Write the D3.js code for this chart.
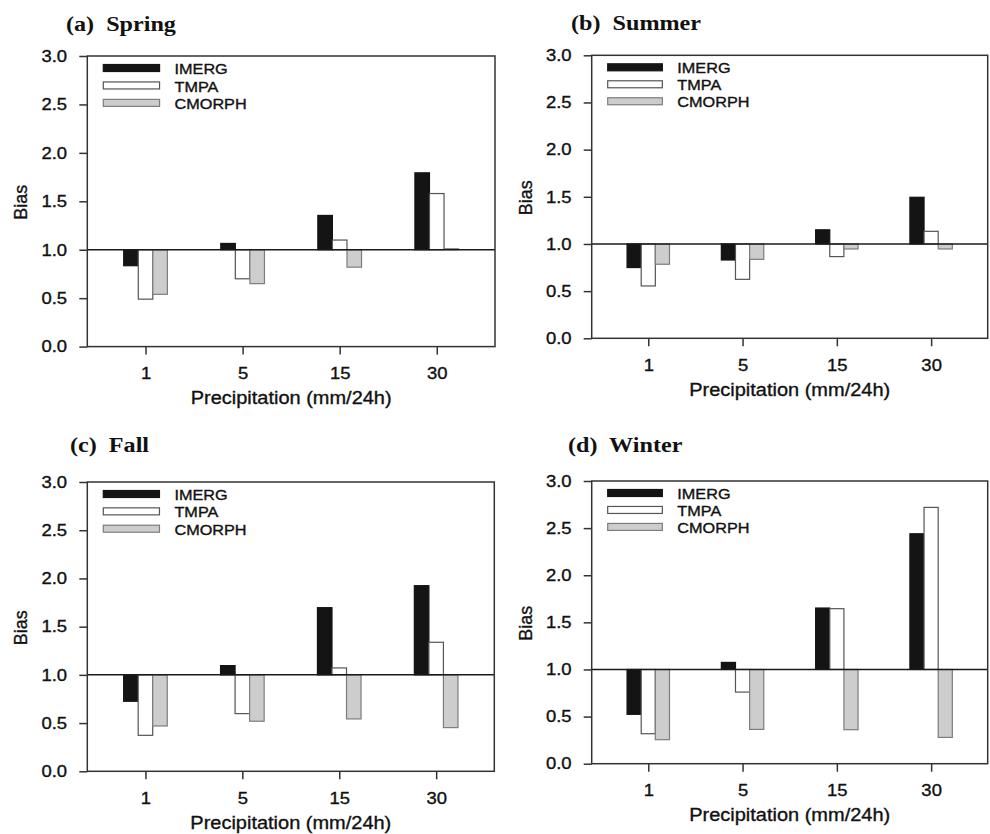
<!DOCTYPE html>
<html>
<head>
<meta charset="utf-8">
<script src="https://cdn.jsdelivr.net/npm/d3@7"></script>
<style>
  body { margin: 0; background: #fff; }
  svg { display: block; }
</style>
</head>
<body>
<svg id="chart" width="990" height="834"></svg>
<script>
const categories = ["1", "5", "15", "30"];
const series = ["IMERG", "TMPA", "CMORPH"];
const yTicks = [0, 0.5, 1.0, 1.5, 2.0, 2.5, 3.0];
const titles = ["(a)  Spring", "(b)  Summer", "(c)  Fall", "(d)  Winter"];

// bias values per season, one entry per category
const springImerg  = [0.835, 1.065, 1.354, 1.794];
const springTmpa   = [0.49, 0.70, 1.10, 1.58];
const springCmorph = [0.54, 0.65, 0.82, 1.01];

const summerImerg  = [0.75, 0.83, 1.15, 1.495];
const summerTmpa   = [0.555, 0.625, 0.866, 1.134];
const summerCmorph = [0.785, 0.837, 0.947, 0.947];

const fallImerg  = [0.726, 1.096, 1.697, 1.925];
const fallTmpa   = [0.373, 0.598, 1.072, 1.338];
const fallCmorph = [0.47, 0.519, 0.543, 0.453];

const winterImerg  = [0.524, 1.075, 1.652, 2.44];
const winterTmpa   = [0.318, 0.76, 1.645, 2.72];
const winterCmorph = [0.255, 0.364, 0.361, 0.279];

const seasons = [
  [springImerg, springTmpa, springCmorph],
  [summerImerg, summerTmpa, summerCmorph],
  [fallImerg, fallTmpa, fallCmorph],
  [winterImerg, winterTmpa, winterCmorph]
];

// frame box of each panel
const layout = [
  { left: 87.3, right: 495, top: 56, bottom: 346.6, tx: 66, ty: 31 },
  { left: 591.7, right: 987.7, top: 55.3, bottom: 338.3, tx: 571, ty: 30 },
  { left: 87.3, right: 494.3, top: 482, bottom: 771.3, tx: 70, ty: 452 },
  { left: 591.7, right: 987.7, top: 481, bottom: 763.7, tx: 568, ty: 452 }
];

const fills = { IMERG: "#141414", TMPA: "#ffffff", CMORPH: "#cdcdcd" };
const strokes = { IMERG: "#141414", TMPA: "#555555", CMORPH: "#7d7d7d" };
const sans = "'Liberation Sans', Arial, Helvetica, sans-serif";
const stretch = 1.12;

const svg = d3.select("#chart");

seasons.forEach((vals, i) => drawPanel(layout[i], titles[i], vals));

// heavier look for the scanned sans text
function ink(sel) {
  sel.attr("fill", "#111")
    .attr("stroke", "#111")
    .attr("stroke-width", 0.35)
    .style("font-family", sans);
}

function drawPanel(p, title, vals) {
  const pw = p.right - p.left;
  const ph = p.bottom - p.top;
  const g = svg.append("g").attr("transform", `translate(${p.left},${p.top})`);

  const x = d3.scalePoint().domain(categories).range([0, pw]).padding(0.6);
  const y = d3.scaleLinear().domain([0, 3]).range([ph, 0]);
  const bw = x.step() * 0.15;
  const xs = d3.scaleBand().domain(series).range([-1.5 * bw, 1.5 * bw]);

  // bars grow from the 1.0 line
  series.forEach((s, si) => {
    g.append("g").selectAll("rect")
      .data(vals[si])
      .join("rect")
      .attr("x", (d, k) => x(categories[k]) + xs(s))
      .attr("width", xs.bandwidth())
      .attr("y", d => Math.min(y(d), y(1)))
      .attr("height", d => Math.abs(y(d) - y(1)))
      .attr("fill", fills[s])
      .attr("stroke", strokes[s])
      .attr("stroke-width", 1.2);
  });

  g.append("line")
    .attr("x1", 0).attr("x2", pw)
    .attr("y1", y(1)).attr("y2", y(1))
    .attr("stroke", "#1a1a1a")
    .attr("stroke-width", 1.5);

  g.append("rect")
    .attr("width", pw).attr("height", ph)
    .attr("fill", "none")
    .attr("stroke", "#333")
    .attr("stroke-width", 1.5);

  const yAxis = g.append("g")
    .call(d3.axisLeft(y).tickValues(yTicks).tickFormat(d3.format(".1f")).tickSize(8).tickPadding(10));
  const xAxis = g.append("g")
    .attr("transform", `translate(0,${ph})`)
    .call(d3.axisBottom(x).tickSize(8).tickPadding(13));

  [yAxis, xAxis].forEach(a => {
    a.select(".domain").remove();
    a.selectAll(".tick line").attr("stroke", "#333").attr("stroke-width", 1.5);
    a.selectAll(".tick text")
      .call(ink)
      .style("font-size", "16.5px")
      .attr("transform", `scale(${stretch},1)`);
  });

  g.append("text")
    .attr("transform", `translate(${pw / 2},${ph + 57.5}) scale(1.08,1)`)
    .attr("text-anchor", "middle")
    .call(ink)
    .style("font-size", "18.5px")
    .text("Precipitation (mm/24h)");

  g.append("text")
    .attr("transform", `translate(-60,${ph / 2 + 1}) rotate(-90)`)
    .attr("text-anchor", "middle")
    .call(ink)
    .style("font-size", "18px")
    .text("Bias");

  // legend
  const sw = pw * 0.138;
  const rowGap = ph * 0.06;
  const leg = g.append("g").attr("transform", "translate(16,12)");
  series.forEach((s, si) => {
    leg.append("rect")
      .attr("x", 0).attr("y", si * rowGap - 3.5)
      .attr("width", sw).attr("height", 7)
      .attr("fill", fills[s])
      .attr("stroke", strokes[s])
      .attr("stroke-width", 1.2);
    leg.append("text")
      .attr("transform", `translate(${sw + 15},${si * rowGap + 1}) scale(${stretch},1)`)
      .attr("dy", "0.35em")
      .call(ink)
      .style("font-size", "14.5px")
      .text(s);
  });

  svg.append("text")
    .attr("transform", `translate(${p.tx},${p.ty}) scale(1.15,1)`)
    .style("font-family", "'Liberation Serif', 'Times New Roman', serif")
    .style("font-weight", "bold")
    .style("font-size", "21px")
    .style("white-space", "pre")
    .attr("fill", "#111")
    .text(title);
}
</script>
</body>
</html>
